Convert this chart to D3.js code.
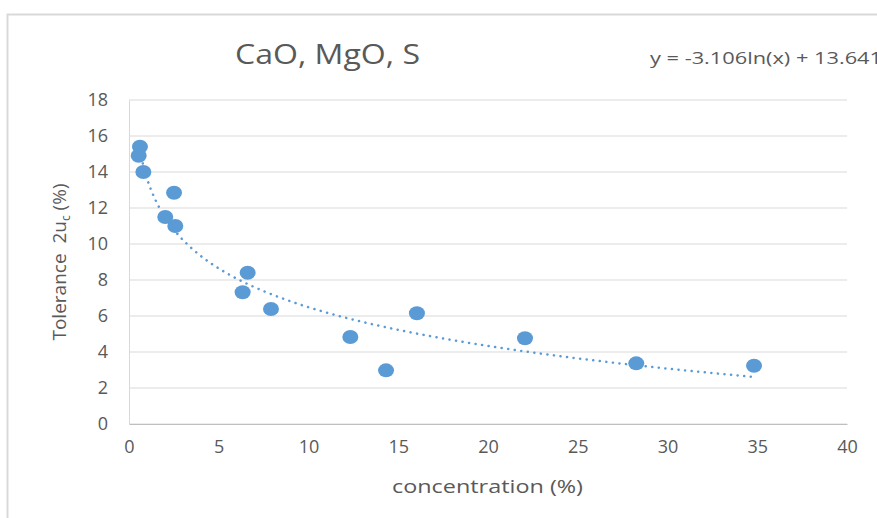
<!DOCTYPE html>
<html>
<head>
<meta charset="utf-8">
<script src="https://cdn.jsdelivr.net/npm/d3@7"></script>
<style>
  body { margin: 0; background: #fff; }
  text { font-family: "Open Sans", "DejaVu Sans", sans-serif; fill: #595959; }
</style>
</head>
<body>
<div id="chart"></div>
<script>
// data
var concentration = [0.61, 0.54, 0.80, 2.51, 2.02, 2.58, 6.61, 6.33, 7.91, 12.33, 14.32, 16.04, 22.06, 28.26, 34.82];
var tolerance     = [15.4, 14.9, 14.0, 12.85, 11.5, 11.0, 8.4, 7.32, 6.39, 4.83, 2.98, 6.15, 4.76, 3.37, 3.24];
var xTicks = [0, 5, 10, 15, 20, 25, 30, 35, 40];
var yTicks = [0, 2, 4, 6, 8, 10, 12, 14, 16, 18];
// trendline coefficients shown on the chart
var trendA = -3.106, trendB = 13.641;

var W = 877, H = 518;
var margin = {left: 129, right: 30, top: 100, bottom: 94};
var width = W - margin.left - margin.right,
    height = H - margin.top - margin.bottom;

var root = d3.select("#chart").append("svg")
  .attr("width", W).attr("height", H);

// chart frame (cut off at right and bottom)
root.append("rect")
  .attr("x", 7.5).attr("y", 14.5)
  .attr("width", W + 20).attr("height", H + 20)
  .attr("fill", "none").attr("stroke", "#d9d9d9").attr("stroke-width", 2);

var svg = root.append("g")
  .attr("transform", "translate(" + margin.left + "," + margin.top + ")");

var xScale = d3.scaleLinear().domain([0, 40]).range([0, width]);
var yScale = d3.scaleLinear().domain([0, 18]).range([height, 0]);

// gridlines
svg.selectAll(".grid")
  .data(yTicks)
  .enter().append("line")
  .attr("x1", 0).attr("x2", width)
  .attr("y1", function(d) { return yScale(d); })
  .attr("y2", function(d) { return yScale(d); })
  .attr("stroke", "#d9d9d9").attr("stroke-width", 1);

// axes
var xAxis = d3.axisBottom(xScale).tickValues(xTicks).tickSize(0).tickPadding(16);
var yAxis = d3.axisLeft(yScale).tickValues(yTicks).tickSize(0).tickPadding(21);

var gX = svg.append("g")
  .attr("transform", "translate(0," + height + ")")
  .call(xAxis);
gX.select(".domain").attr("stroke", "#bfbfbf");
gX.selectAll("text").attr("font-size", "18px").attr("fill", "#595959");

var gY = svg.append("g").call(yAxis);
gY.select(".domain").attr("stroke", "#d9d9d9");
gY.selectAll("text").attr("font-size", "18px").attr("fill", "#595959");

// trendline
var xMin = d3.min(concentration), xMax = d3.max(concentration);
var trendX = d3.range(0, 201).map(function(i) { return xMin + (xMax - xMin) * i / 200; });
var line = d3.line()
  .x(function(d) { return xScale(d); })
  .y(function(d) { return yScale(trendA * Math.log(d) + trendB); });
svg.append("path")
  .datum(trendX)
  .attr("d", line)
  .attr("fill", "none")
  .attr("stroke", "#5b9bd5")
  .attr("stroke-width", 2.5)
  .attr("stroke-linecap", "round")
  .attr("stroke-dasharray", "0.1,6.5");

// points
svg.selectAll(".dot")
  .data(concentration)
  .enter().append("ellipse")
  .attr("class", "dot")
  .attr("rx", 8).attr("ry", 7)
  .attr("cx", function(d) { return xScale(d); })
  .attr("cy", function(d, i) { return yScale(tolerance[i]); })
  .attr("fill", "#5b9bd5");

// title
root.append("text")
  .attr("x", 235).attr("y", 64)
  .attr("font-size", "27px")
  .attr("textLength", 185).attr("lengthAdjust", "spacingAndGlyphs")
  .attr("fill", "#595959")
  .text("CaO, MgO, S");

// equation
root.append("text")
  .attr("x", 650).attr("y", 64)
  .attr("font-size", "16px")
  .attr("textLength", 232).attr("lengthAdjust", "spacingAndGlyphs")
  .attr("fill", "#404040")
  .text("y = -3.106ln(x) + 13.641");

// x label
root.append("text")
  .attr("x", 392).attr("y", 493)
  .attr("font-size", "19px")
  .attr("textLength", 191).attr("lengthAdjust", "spacingAndGlyphs")
  .text("concentration (%)");

// y label with subscript
var yl = root.append("text")
  .attr("transform", "translate(66,262) rotate(-90)")
  .attr("text-anchor", "middle")
  .attr("font-size", "19px")
  .style("white-space", "pre");
yl.append("tspan").text("Tolerance  2u");
yl.append("tspan").attr("font-size", "12px").attr("dy", 4).text("c");
yl.append("tspan").attr("dy", -4).text(" (%)");
</script>
</body>
</html>
